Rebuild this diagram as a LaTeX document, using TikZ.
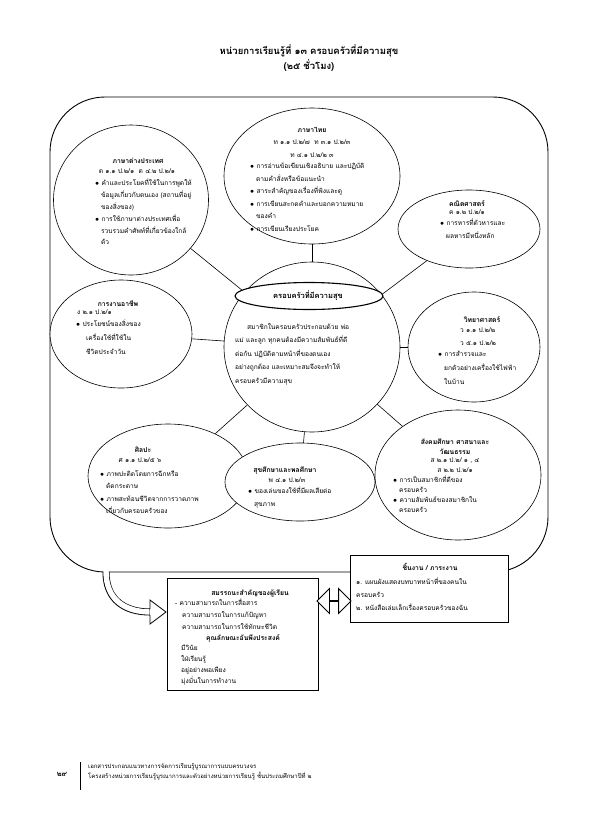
\documentclass[tikz,border=0pt]{standalone}
\usepackage{fontspec}
\newfontfamily\thai[Script=Thai]{Loma}
\usetikzlibrary{shapes.geometric,shapes.arrows,arrows.meta}
\begin{document}
\begin{tikzpicture}[x=1pt,y=-1pt,
  every node/.style={font=\thai\fontsize{6.6}{12.5}\selectfont, inner sep=0pt},
  subj/.style={ellipse, draw, line width=0.6pt, fill=white},
  ttl/.style={font=\thai\bfseries\fontsize{6.8}{12}\selectfont},
  body/.style={align=left, anchor=north west},
  cbody/.style={align=center, anchor=north},
  ln/.style={line width=0.6pt}]
\useasboundingbox (0,0) rectangle (595,836);
% title
\node[font=\thai\bfseries\fontsize{9.5}{15}\selectfont, align=center] (title) at (309,58) {หน่วยการเรียนรู้ที่ ๑๓ ครอบครัวที่มีความสุข\\(๒๕ ชั่วโมง)};
% big rounded frame
\draw[line width=0.9pt, rounded corners=55pt] (50,97) rectangle (548,572);
% ellipses
\node[subj, minimum width=176pt, minimum height=136pt] (thai) at (312,176) {};
\node[subj, minimum width=155pt, minimum height=150pt] (fore) at (131,200) {};
\node[subj, minimum width=142pt, minimum height=78pt] (math) at (469,229) {};
\node[subj, minimum width=142pt, minimum height=108pt] (career) at (121,334) {};
\node[subj, minimum width=176pt, minimum height=170pt] (core) at (312,347) {};
\node[subj, minimum width=132pt, minimum height=110pt] (sci) at (474,347) {};
\node[subj, minimum width=160pt, minimum height=104pt] (art) at (168,476) {};
\node[subj, minimum width=150pt, minimum height=78pt] (health) at (300,482) {};
\node[subj, minimum width=166pt, minimum height=130pt] (soc) at (458,475) {};
% connectors
\foreach \s in {thai,fore,math,career,sci,art,health,soc} \draw[ln] (core) -- (\s);
% core title ellipse
\node[ellipse, draw, line width=1.1pt, minimum width=148pt, minimum height=27pt, fill=white] (coret) at (309,296) {};
\node[font=\thai\bfseries\fontsize{7.5}{12}\selectfont] (coretxt) at (308,296) {ครอบครัวที่มีความสุข};
% Thai
\node[ttl] (thaiT) at (312,130) {ภาษาไทย};
\node[cbody] (thaiC) at (312,140) {ท ๑.๑ ป.๒/๗ \ ท ๓.๑ ป.๒/๓\\ท ๔.๑ ป.๒/๒ ๓};
\node[body] (thaiB) at (250,163) {$\bullet$\ การอ่านข้อเขียนเชิงอธิบาย และปฏิบัติ\\\hspace{6pt}ตามคำสั่งหรือข้อแนะนำ\\$\bullet$\ สาระสำคัญของเรื่องที่ฟังและดู\\$\bullet$\ การเขียนสะกดคำและบอกความหมาย\\\hspace{6pt}ของคำ\\$\bullet$\ การเขียนเรียงประโยค};
% foreign
\node[ttl] (foreT) at (138,161) {ภาษาต่างประเทศ};
\node[cbody] (foreC) at (137,169) {ต ๑.๑ ป.๒/๑ \ ต ๔.๒ ป.๒/๑};
\node[body, font=\thai\fontsize{6.6}{11.8}\selectfont] (foreB) at (95,179) {$\bullet$\ คำและประโยคที่ใช้ในการพูดให้\\\hspace{6pt}ข้อมูลเกี่ยวกับตนเอง (สถานที่อยู่\\\hspace{6pt}ของสิ่งของ)\\$\bullet$\ การใช้ภาษาต่างประเทศเพื่อ\\\hspace{6pt}รวบรวมคำศัพท์ที่เกี่ยวข้องใกล้\\\hspace{6pt}ตัว};
% math
\node[ttl] (mathT) at (467,204) {คณิตศาสตร์};
\node[cbody] (mathC) at (467,210) {ค ๑.๒ ป.๒/๑};
\node[body] (mathB) at (440,219) {$\bullet$\ การหารที่ตัวหารและ\\\hspace{6pt}ผลหารมีหนึ่งหลัก};
% career
\node[ttl] (carT) at (118,304) {การงานอาชีพ};
\node[body] (carC) at (77,310) {ง ๒.๑ ป.๒/๑};
\node[body, font=\thai\fontsize{6.6}{14}\selectfont] (carB) at (76,320) {$\bullet$\ ประโยชน์ของสิ่งของ\\\hspace{10pt}เครื่องใช้ที่ใช้ใน\\\hspace{10pt}ชีวิตประจำวัน};
% core body
\node[body, font=\thai\fontsize{6.6}{13.5}\selectfont] (coreB) at (235,323) {\hspace{12pt}สมาชิกในครอบครัวประกอบด้วย พ่อ\\แม่ และลูก ทุกคนต้องมีความสัมพันธ์ที่ดี\\ต่อกัน ปฏิบัติตามหน้าที่ของตนเอง\\อย่างถูกต้อง และเหมาะสมจึงจะทำให้\\ครอบครัวมีความสุข};
% science
\node[ttl] (sciT) at (482,320) {วิทยาศาสตร์};
\node[body] (sciC) at (460,328) {ว ๑.๑ ป.๒/๒\\ว ๕.๑ ป.๒/๒};
\node[body, font=\thai\fontsize{6.6}{14}\selectfont] (sciB) at (438,351) {$\bullet$\ การสำรวจและ\\\hspace{6pt}ยกตัวอย่างเครื่องใช้ไฟฟ้า\\\hspace{6pt}ในบ้าน};
% art
\node[ttl] (artT) at (143,450) {ศิลปะ};
\node[cbody] (artC) at (140,458) {ศ ๑.๑ ป.๒/๕ ๖};
\node[body] (artB) at (100,470) {$\bullet$\ ภาพปะติดโดยการฉีกหรือ\\\hspace{6pt}ตัดกระดาษ\\$\bullet$\ ภาพสะท้อนชีวิตจากการวาดภาพ\\\hspace{6pt}เกี่ยวกับครอบครัวของ};
% health
\node[ttl] (healT) at (285,471) {สุขศึกษาและพลศึกษา};
\node[cbody] (healC) at (287,478) {พ ๔.๑ ป.๒/๓};
\node[body] (healB) at (248,487) {$\bullet$\ ของเล่นของใช้ที่มีผลเสียต่อ\\\hspace{6pt}สุขภาพ};
% social
\node[ttl, align=center, font=\thai\bfseries\fontsize{6.8}{10}\selectfont] (socT) at (455,447) {สังคมศึกษา ศาสนาและ\\วัฒนธรรม};
\node[cbody, font=\thai\fontsize{6.6}{10}\selectfont] (socC) at (455,458) {ส ๒.๑ ป.๒/ ๑ , ๔\\ส ๒.๒ ป.๒/๑};
\node[body, font=\thai\fontsize{6.6}{10}\selectfont] (socB) at (393,476) {$\bullet$\ การเป็นสมาชิกที่ดีของ\\\hspace{6pt}ครอบครัว\\$\bullet$\ ความสัมพันธ์ของสมาชิกใน\\\hspace{6pt}ครอบครัว};
% bottom boxes
\node[draw, line width=0.8pt, fill=white, minimum width=151pt, minimum height=112pt] (comp) at (242.5,634) {};
\node[draw, line width=0.8pt, fill=white, minimum width=158pt, minimum height=67pt] (work) at (429,588.5) {};
\node[ttl] (compT) at (250,593) {สมรรถนะสำคัญของผู้เรียน};
\node[body, font=\thai\fontsize{6.6}{12}\selectfont] (compB) at (175,599) {- ความสามารถในการสื่อสาร\\\hspace{7pt}ความสามารถในการแก้ปัญหา\\\hspace{7pt}ความสามารถในการใช้ทักษะชีวิต};
\node[ttl] (compT2) at (243,638) {คุณลักษณะอันพึงประสงค์};
\node[body, font=\thai\fontsize{6.6}{11}\selectfont] (compB2) at (181,645) {มีวินัย\\ใฝ่เรียนรู้\\อยู่อย่างพอเพียง\\มุ่งมั่นในการทำงาน};
\node[ttl] (workT) at (430,567) {ชิ้นงาน / ภาระงาน};
\node[body, font=\thai\fontsize{6.6}{13}\selectfont] (workB) at (356,578) {๑. แผนผังแสดงบทบาทหน้าที่ของคนใน\\ครอบครัว\\๒. หนังสือเล่มเล็กเรื่องครอบครัวของฉัน};
% double arrow
\node[double arrow, draw, line width=0.8pt, fill=white, minimum width=13pt, minimum height=34pt, double arrow head extend=12pt, inner sep=0pt] (darr) at (334,601) {};
% curved arrow
\coordinate (cstart) at (106,572);
\draw[line width=7pt] (cstart) .. controls (106,600) and (125,612) .. (150,612);
\draw[line width=5.4pt, white] (106,571) .. controls (106,600) and (125,612) .. (151,612);
\draw[line width=0.8pt, fill=white] (150,600) -- (166,612) -- (150,624) -- cycle;
\fill[white] (149.6,609.4) rectangle (151,614.6);
% footer
\node[font=\thai\bfseries\fontsize{7.5}{10}\selectfont] (pg) at (62,774) {๒๙};
\draw[ln] (80,762) -- (80,790);
\node[body, font=\thai\fontsize{6}{10}\selectfont] (foot) at (88,763) {เอกสารประกอบแนวทางการจัดการเรียนรู้บูรณาการแบบครบวงจร\\โครงสร้างหน่วยการเรียนรู้บูรณาการและตัวอย่างหน่วยการเรียนรู้ ชั้นประถมศึกษาปีที่ ๒};
\end{tikzpicture}
\end{document}
